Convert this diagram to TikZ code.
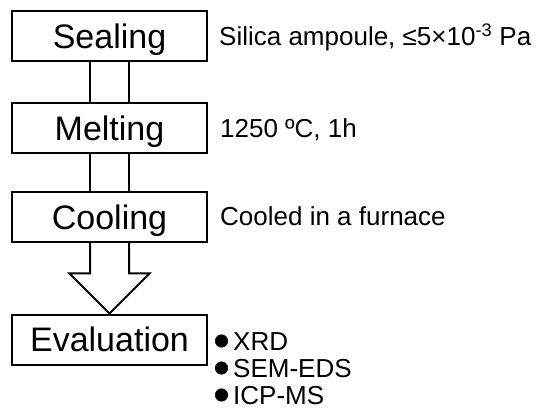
\documentclass[tikz,border=0pt]{standalone}
\usepackage{fontspec}
\setmainfont{Liberation Sans}
\usetikzlibrary{calc}
\newcommand{\bigboxfont}{\fontsize{34}{40}\selectfont}
\newcommand{\sidetextfont}{\fontsize{26}{30}\selectfont}
\begin{document}
\begin{tikzpicture}[x=1pt,y=-1pt,
  stepbox/.style={draw, line width=2pt, minimum width=195pt, minimum height=50pt,
    inner sep=0pt, text height=24.3pt, text depth=0pt, font=\bigboxfont},
  sidetext/.style={anchor=west, inner sep=0pt, text height=18.6pt, text depth=0pt, font=\sidetextfont},
  bulletdot/.style={circle, fill=black, draw=black, line width=0.5pt, inner sep=0pt, minimum size=12.5pt},
  link/.style={line width=2pt}]
\useasboundingbox (0,0) rectangle (541,414);
\node[stepbox] (seal) at (109.5,36.5) {Sealing};
\node[stepbox] (melt) at (109.5,128) {Melting};
\node[stepbox] (cool) at (109.5,217) {Cooling};
\node[stepbox] (eval) at (109.5,339.5) {Evaluation};

\draw[link] ($(seal.south)+(-19.5,0)$) -- ($(melt.north)+(-19.5,0)$);
\draw[link] ($(seal.south)+(19.5,0)$) -- ($(melt.north)+(19.5,0)$);
\draw[link] ($(melt.south)+(-19.5,0)$) -- ($(cool.north)+(-19.5,0)$);
\draw[link] ($(melt.south)+(19.5,0)$) -- ($(cool.north)+(19.5,0)$);
\draw[link, line join=miter] ($(cool.south)+(-19.5,0)$) -- ($(eval.north)+(-19.5,-40)$)
  -- ($(eval.north)+(-40,-40)$) -- (eval.north) -- ($(eval.north)+(40,-40)$)
  -- ($(eval.north)+(19.5,-40)$) -- ($(cool.south)+(19.5,0)$);

\node[sidetext] (sealnote) at (219,36.5) {Silica ampoule, ≤5×10\textsuperscript{-3} Pa};
\node[sidetext] (meltnote) at (220,128.5) {1250 ºC, 1h};
\node[sidetext] (coolnote) at (220,216.5) {Cooled in a furnace};

\node[bulletdot] (b1) at (221.5,341) {};
\node[bulletdot] (b2) at (221.5,368) {};
\node[bulletdot] (b3) at (221.5,395) {};
\node[sidetext] (xrd) at (233,341) {XRD};
\node[sidetext] (sem) at (233,368) {SEM-EDS};
\node[sidetext] (icp) at (233,395) {ICP-MS};
\end{tikzpicture}
\end{document}
